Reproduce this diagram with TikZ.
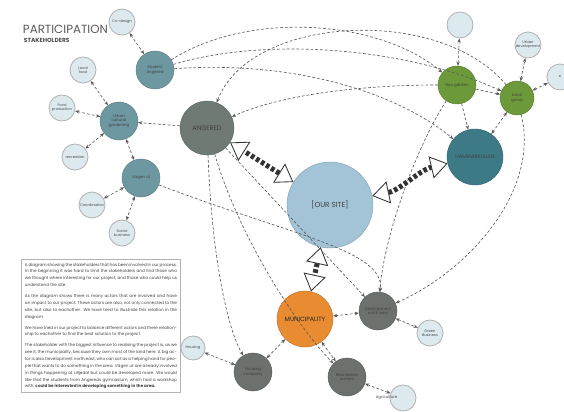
\documentclass[tikz,border=0pt]{standalone}
\usepackage{fontspec}
\setmainfont{Poppins}
\usetikzlibrary{arrows.meta}
\definecolor{ice}{HTML}{DCEAF0}
\definecolor{tealmid}{HTML}{6E98A1}
\definecolor{angeredgrey}{HTML}{707A74}
\definecolor{sitebl}{HTML}{A2C4D6}
\definecolor{muniorange}{HTML}{E98B30}
\definecolor{hammarteal}{HTML}{3E7A86}
\definecolor{leafgreen}{HTML}{6C9A3A}
\definecolor{stonegrey}{HTML}{6D716E}
\definecolor{inkgrey}{HTML}{4A4A4A}
\begin{document}
\begin{tikzpicture}[x=0.025cm,y=-0.025cm,
smallnode/.style={circle,draw=gray!60,fill=ice,line width=0.6pt,minimum size=0.65cm,inner sep=0pt,align=center,font=\fontsize{2.6}{3}\selectfont,text=inkgrey},
midnode/.style={circle,draw=tealmid!80!black,fill=tealmid,line width=0.3pt,minimum size=0.95cm,inner sep=0pt,align=center,font=\fontsize{2.8}{3.2}\selectfont,text=black!75},
greynode/.style={midnode,draw=stonegrey!80!black,fill=stonegrey},
greennode/.style={midnode,draw=leafgreen!80!black,fill=leafgreen},
bignode/.style={circle,line width=0.3pt,inner sep=0pt,text=black!75},
link/.style={gray!70!black,line width=0.45pt,dash pattern=on 2pt off 1.4pt,>={Stealth[length=3pt,width=2.4pt]}},
bigarrow/.style={black!80,line width=3.6pt,dash pattern=on 2.6pt off 1.6pt,{Triangle[open,length=12pt,width=16pt,line width=0.6pt,fill=white]}-{Triangle[open,length=12pt,width=16pt,line width=0.6pt,fill=white]}}]

\useasboundingbox (0,0) rectangle (564,412);

% title
\draw (18,29) node[anchor=west,text=black!65,font=\fontsize{8.4}{9}\selectfont] (title) {PARTICIPATION};
\draw (19,40) node[anchor=west,text=black!70,font=\fontsize{4.2}{5}\selectfont\bfseries] (subtitle) {STAKEHOLDERS};

% left group
\draw (122,22) node[smallnode] (codesign) {Co-design};
\draw (155,70) node[midnode] (student) {Student\\Angered};
\draw (83,70) node[smallnode] (localfood) {Local\\food};
\draw (62,108) node[smallnode] (foodprod) {Food\\production};
\draw (119,121) node[midnode] (urbancult) {Urban\\cultural\\gardening};
\draw (75,157) node[smallnode] (recreation) {recreation};
\draw (141,178) node[midnode] (vagenut) {Vägen ut};
\draw (92,205) node[smallnode] (coord) {Coordination};
\draw (122,233) node[smallnode] (socialbus) {Social\\business};

% main actors
\draw (207,128) node[bignode,fill=angeredgrey,draw=angeredgrey!80!black,minimum size=1.35cm,font=\fontsize{4.6}{5}\selectfont] (angered) {ANGERED};
\draw (330,205) node[bignode,fill=sitebl,draw=sitebl!80!black,minimum size=2.15cm,font=\fontsize{5.2}{6}\selectfont] (site) {[OUR SITE]};
\draw (305,319) node[bignode,fill=muniorange,draw=muniorange!80!black,minimum size=1.4cm,text=black!85,font=\fontsize{4.4}{5}\selectfont] (muni) {MUNICIPALITY};
\draw (475,157) node[bignode,fill=hammarteal,draw=hammarteal!80!black,minimum size=1.4cm,font=\fontsize{3.6}{4}\selectfont] (hammar) {HAMMARKULLEN};

% right group
\draw (457,85) node[greennode] (nyagarden) {Nya gården};
\draw (517,98) node[greennode,minimum size=0.85cm] (localgroup) {Local\\group};
\draw (460,25) node[smallnode] (topsmall) {};
\draw (528,45) node[smallnode] (urbandev) {Urban\\development};
\draw (560,77) node[smallnode] (edgesmall) {e};

% lower group
\draw (253,372) node[greynode] (housingco) {Housing\\company};
\draw (347,377) node[greynode] (realestate) {Real estate\\owners};
\draw (378,311) node[greynode] (devne) {Development\\north east};
\draw (430,333) node[smallnode] (greenbus) {Green\\Business};
\draw (403,398) node[smallnode,label={[text=inkgrey,font=\fontsize{2.8}{3}\selectfont,label distance=-9pt]left:Agriculture}] (agri) {};
\draw (193,348) node[smallnode,minimum size=0.6cm] (housing) {Housing};

% text
\draw (101,326) node[draw=gray!60,line width=0.6pt,fill=white,text width=3.8cm,inner sep=2.2pt,align=justify,text=black!75,font=\fontsize{2.95}{4.85}\selectfont] (about) {A diagram showing the stakeholders that has been involved in our process. In the beginning it was hard to limit the stakeholders and find those who we thought where interesting for our project, and those who could help us understand the site.\par\vspace{3pt}
As the diagram shows there is many actors that are involved and have an impact to our project. These actors are also, not only connected to the site, but also to eachother. We have tried to illustrate this relation in the diagram.\par\vspace{3pt}
We have tried in our project to balance different actors and there relationship to eachother to find the best solution to the project.\par\vspace{3pt}
The stakeholder with the biggest influence to realising the project is, as we see it, the municipality, because they own most of the land here. A big actor is also Development north east, who can act as a helping hand for people that wants to do something in the area. Vägen ut are already involved in things happening at Lilljedal but could be developed more. We would like that the students from Angereds gymnasium, which had a workshop with, \textbf{could be interested in developing something in the area.}};

% short links
\draw[link,<->] (codesign) -- (student);
\draw[link,<->] (localfood) -- (urbancult);
\draw[link,<->] (foodprod) -- (urbancult);
\draw[link,<->] (urbancult) -- (recreation);
\draw[link,<->] (urbancult) -- (vagenut);
\draw[link,<->] (vagenut) -- (coord);
\draw[link,<->] (vagenut) -- (socialbus);
\draw[link,<->] (nyagarden) -- (topsmall);
\draw[link,<->] (localgroup) -- (urbandev);
\draw[link,<->] (localgroup) -- (edgesmall);
\draw[link,<->] (localgroup) -- (hammar);
\draw[link,<->] (muni) -- (housingco);
\draw[link,<->] (muni) -- (devne);
\draw[link,<->] (muni) -- (realestate);
\draw[link,<->] (devne) -- (greenbus);
\draw[link,<->] (realestate) -- (agri);
\draw[link,<->] (housing) -- (housingco);

% long links
\draw[link,->] (angered) -- (urbancult);
\draw[link,->] (student) .. controls (250,10) and (380,20) .. (nyagarden);
\draw[link,->] (student) .. controls (260,38) and (400,45) .. (localgroup);
\draw[link,->] (student) .. controls (300,60) and (400,95) .. (hammar);
\draw[link,->] (localgroup) .. controls (440,5) and (250,15) .. (angered);
\draw[link,->] (nyagarden) .. controls (360,85) and (280,95) .. (angered);
\draw[link,->] (nyagarden) -- (localgroup);
\draw[link,->] (nyagarden) -- (hammar);
\draw[link,->] (angered) .. controls (212,260) and (228,330) .. (housingco);
\draw[link,->] (angered) .. controls (240,240) and (300,330) .. (realestate);
\draw[link,->] (angered) -- (devne);
\draw[link,->] (vagenut) .. controls (290,235) and (385,250) .. (devne);
\draw[link,->] (nyagarden) .. controls (420,140) and (385,230) .. (devne);
\draw[link,->] (localgroup) .. controls (540,190) and (470,270) .. (devne);

% main arrows
\draw[bigarrow] (site) -- (angered);
\draw[bigarrow] (site) .. controls (400,190) and (420,170) .. (hammar);
\draw[bigarrow] (site) -- (muni);
\end{tikzpicture}
\end{document}
